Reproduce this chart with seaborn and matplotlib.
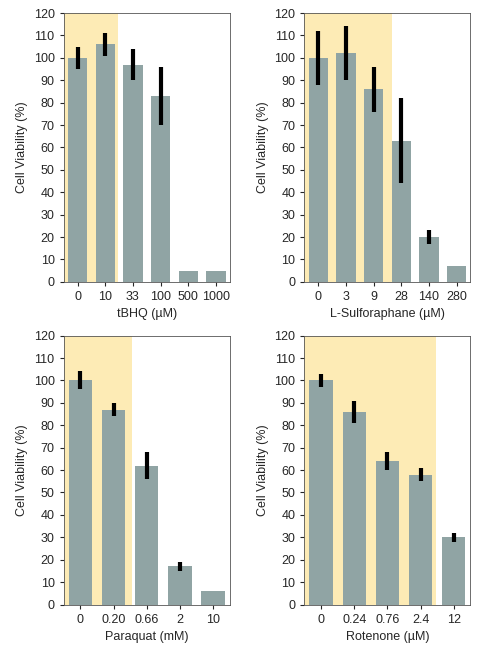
import matplotlib
matplotlib.use("Agg")
import matplotlib.pyplot as plt
import seaborn as sns
import pandas as pd

sns.set_style("white")
plt.rcParams['font.family'] = ['Liberation Sans', 'DejaVu Sans']

panels = [
    dict(cats=["0", "10", "33", "100", "500", "1000"], vals=[100, 106, 97, 83, 5, 5],
         errs=[5, 5, 7, 13, 0, 0], xlabel="tBHQ (µM)", shade=1.45),
    dict(cats=["0", "3", "9", "28", "140", "280"], vals=[100, 102, 86, 63, 20, 7],
         errs=[12, 12, 10, 19, 3, 0], xlabel="L-Sulforaphane (µM)", shade=2.65),
    dict(cats=["0", "0.20", "0.66", "2", "10"], vals=[100, 87, 62, 17, 6],
         errs=[4, 3, 6, 2, 0], xlabel="Paraquat (mM)", shade=1.55),
    dict(cats=["0", "0.24", "0.76", "2.4", "12"], vals=[100, 86, 64, 58, 30],
         errs=[3, 5, 4, 3, 2], xlabel="Rotenone (µM)", shade=3.45),
]

fig, axes = plt.subplots(2, 2, figsize=(4.9, 6.5), dpi=100)
for ax, p in zip(axes.flat, panels):
    df = pd.DataFrame({"c": p["cats"], "v": p["vals"]})
    ax.axvspan(-0.5, p["shade"], color="#fdebb5", zorder=0, linewidth=0)
    sns.barplot(data=df, x="c", y="v", color="#90a4a4", saturation=1, width=0.7,
                linewidth=0, ax=ax, zorder=2)
    xs = list(range(len(p["cats"])))
    ex = [x for x, e in zip(xs, p["errs"]) if e > 0]
    ev = [v for v, e in zip(p["vals"], p["errs"]) if e > 0]
    ee = [e for e in p["errs"] if e > 0]
    ax.errorbar(ex, ev, yerr=ee, fmt="none", ecolor="black", elinewidth=3, capsize=0, zorder=3)
    ax.set_xlim(-0.5, len(p["cats"]) - 0.5)
    ax.set_ylim(0, 120)
    ax.set_yticks(range(0, 121, 10))
    ax.set_xlabel(p["xlabel"], fontsize=9)
    ax.set_ylabel("Cell Viability (%)", fontsize=9)
    ax.tick_params(labelsize=9, length=3, left=True, bottom=True)
    for s in ax.spines.values():
        s.set_color("#555555")
        s.set_linewidth(0.6)

fig.subplots_adjust(left=0.13, right=0.96, top=0.98, bottom=0.07, wspace=0.45, hspace=0.2)
fig.savefig("out.png", dpi=100)
